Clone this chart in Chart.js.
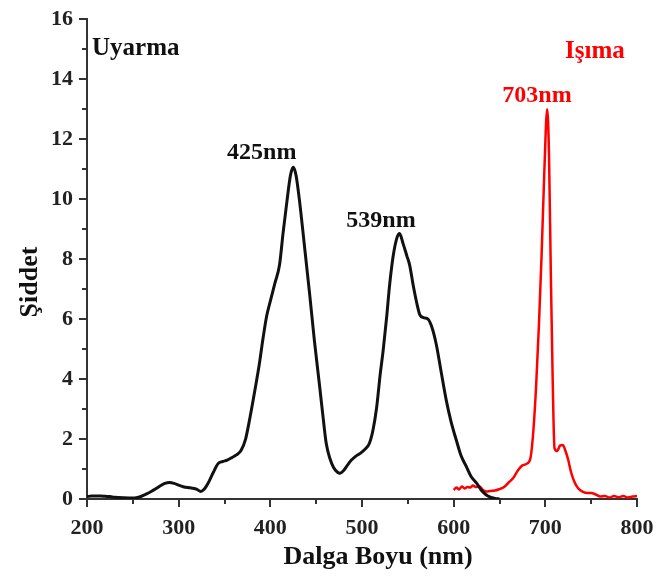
<!DOCTYPE html>
<html>
<head>
<meta charset="utf-8">
<script src="https://cdn.jsdelivr.net/npm/chart.js@4.4.1/dist/chart.umd.min.js"></script>
<style>
  html, body { margin: 0; padding: 0; background: #fff; }
  #wrap { width: 659px; height: 580px; }
</style>
</head>
<body>
<div id="wrap"><canvas id="spectrum" width="659" height="580"></canvas></div>
<script>
// excitation (Uyarma) spectrum, black
const excWave = [200, 205, 210, 215, 220, 225, 230, 240, 250, 255, 260, 265, 270, 275, 280, 285, 290, 295, 300, 305, 310, 315, 320, 324, 328, 333, 338, 343, 348, 353, 358, 363, 368, 373, 378, 383, 388, 392, 396, 400, 405, 410, 414, 418, 422, 425, 428, 432, 437, 443, 448, 454, 458, 461, 465, 469, 473, 476, 480, 484, 488, 493, 498, 503, 508, 512, 516, 520, 523, 527, 530, 534, 538, 541, 545, 549, 552, 556, 560, 563, 567, 572, 576, 581, 586, 592, 597, 603, 608, 614, 619, 625, 630, 635, 640, 645, 650];
const excValue = [0.08, 0.1, 0.1, 0.1, 0.09, 0.08, 0.06, 0.04, 0.03, 0.05, 0.1, 0.17, 0.25, 0.34, 0.44, 0.52, 0.55, 0.52, 0.46, 0.41, 0.38, 0.36, 0.32, 0.25, 0.33, 0.58, 0.9, 1.18, 1.25, 1.3, 1.38, 1.47, 1.62, 2.0, 2.75, 3.6, 4.5, 5.35, 6.1, 6.6, 7.2, 7.8, 8.9, 9.9, 10.8, 11.06, 10.8, 9.9, 8.5, 6.8, 5.3, 3.7, 2.6, 1.85, 1.35, 1.05, 0.9, 0.86, 0.95, 1.12, 1.28, 1.42, 1.52, 1.65, 1.85, 2.3, 3.06, 4.2, 4.93, 6.1, 7.1, 8.1, 8.7, 8.85, 8.5, 8.1, 7.8, 7.1, 6.5, 6.15, 6.05, 6.0, 5.75, 5.16, 4.3, 3.28, 2.6, 1.95, 1.45, 1.07, 0.75, 0.53, 0.3, 0.15, 0.06, 0.02, 0.0];

// emission (Işıma) spectrum, red
const emiWave = [600, 603, 606, 609, 612, 615, 618, 621, 624, 628, 632, 636, 640, 645, 650, 655, 660, 665, 670, 675, 680, 684, 687, 690, 693, 696, 699, 702, 704, 706, 708, 710, 713, 716, 719, 722, 725, 728, 732, 736, 741, 746, 750, 755, 760, 765, 770, 775, 780, 785, 790, 795, 800];
const emiValue = [0.3, 0.38, 0.32, 0.42, 0.35, 0.4, 0.38, 0.45, 0.4, 0.42, 0.3, 0.25, 0.27, 0.28, 0.33, 0.4, 0.55, 0.7, 0.95, 1.12, 1.18, 1.4, 2.3, 3.8, 5.8, 8.2, 11.0, 13.0, 11.5, 7.5, 4.0, 1.7, 1.6, 1.78, 1.8, 1.6, 1.3, 0.9, 0.55, 0.35, 0.24, 0.2, 0.2, 0.15, 0.08, 0.1, 0.05, 0.1, 0.06, 0.1, 0.05, 0.08, 0.1];

const xTicks = [200, 300, 400, 500, 600, 700, 800];
const yTicks = [0, 2, 4, 6, 8, 10, 12, 14, 16];

// peak labels: [text, wavelength, intensity, colour]
const peakLabels = [
  ["425nm", 390.6, 11.33, "#111"],
  ["539nm", 520.7, 9.08, "#111"],
  ["703nm", 690.9, 13.25, "#ff0000"]
];

const serif = "'Liberation Serif', 'Times New Roman', serif";
const axisColor = "#333";

const toPoints = (xs, ys) => xs.map((x, i) => ({ x: x, y: ys[i] }));

const decorations = {
  id: "decorations",
  afterDraw(chart) {
    const { ctx, scales } = chart;
    const xs = scales.x, ys = scales.y;
    const area = chart.chartArea;
    ctx.save();

    // minor ticks
    ctx.strokeStyle = axisColor;
    ctx.lineWidth = 2;
    ctx.beginPath();
    for (let i = 0; i < xTicks.length - 1; i++) {
      const px = Math.round(xs.getPixelForValue((xTicks[i] + xTicks[i + 1]) / 2));
      ctx.moveTo(px, area.bottom);
      ctx.lineTo(px, area.bottom + 5);
    }
    for (let i = 0; i < yTicks.length - 1; i++) {
      const py = Math.round(ys.getPixelForValue((yTicks[i] + yTicks[i + 1]) / 2));
      ctx.moveTo(area.left, py);
      ctx.lineTo(area.left - 5, py);
    }
    ctx.stroke();

    // series names
    ctx.font = "bold 25px " + serif;
    ctx.textBaseline = "alphabetic";
    ctx.textAlign = "left";
    ctx.fillStyle = "#111";
    ctx.fillText("Uyarma", xs.getPixelForValue(205.5), ys.getPixelForValue(14.8));
    ctx.fillStyle = "#ff0000";
    ctx.fillText("Işıma", xs.getPixelForValue(721.5), ys.getPixelForValue(14.7));

    // peak labels
    ctx.font = "bold 24px " + serif;
    ctx.textAlign = "center";
    peakLabels.forEach(([text, wl, val, color]) => {
      ctx.fillStyle = color;
      ctx.fillText(text, xs.getPixelForValue(wl), ys.getPixelForValue(val));
    });

    // axis titles
    ctx.fillStyle = "#111";
    ctx.font = "bold 26px " + serif;
    ctx.textAlign = "center";
    ctx.fillText("Dalga Boyu (nm)", 378, 564);
    ctx.translate(37, 282);
    ctx.rotate(-Math.PI / 2);
    ctx.fillText("Şiddet", 0, 0);
    ctx.restore();
  }
};

new Chart(document.getElementById("spectrum"), {
  type: "line",
  data: {
    datasets: [
      {
        label: "Uyarma",
        data: toPoints(excWave, excValue),
        borderColor: "#111",
        borderWidth: 3,
        pointRadius: 0,
        cubicInterpolationMode: "monotone",
        fill: false
      },
      {
        label: "Işıma",
        data: toPoints(emiWave, emiValue),
        borderColor: "#ff0000",
        borderWidth: 2.5,
        pointRadius: 0,
        cubicInterpolationMode: "monotone",
        fill: false
      }
    ]
  },
  options: {
    responsive: false,
    animation: false,
    layout: { padding: { top: 16, right: 22, left: 0, bottom: 0 } },
    plugins: {
      legend: { display: false },
      tooltip: { enabled: false }
    },
    scales: {
      x: {
        type: "linear",
        min: 200,
        max: 800,
        afterBuildTicks: (scale) => { scale.ticks = xTicks.map((v) => ({ value: v })); },
        afterFit: (scale) => {
          scale.height = 81;
          scale.paddingLeft = 0;
          scale.paddingRight = 0;
        },
        border: { color: axisColor, width: 2 },
        grid: { drawOnChartArea: false, color: axisColor, lineWidth: 2, tickLength: 8 },
        ticks: {
          color: "#222",
          padding: 8,
          maxRotation: 0,
          font: { family: serif, size: 22, weight: "bold" }
        }
      },
      y: {
        min: 0,
        max: 16,
        afterBuildTicks: (scale) => { scale.ticks = yTicks.map((v) => ({ value: v })); },
        afterFit: (scale) => { scale.width = 87; },
        border: { color: axisColor, width: 2 },
        grid: { drawOnChartArea: false, color: axisColor, lineWidth: 2, tickLength: 8 },
        ticks: {
          color: "#222",
          padding: 6,
          font: { family: serif, size: 22, weight: "bold" }
        }
      }
    }
  },
  plugins: [decorations]
});
</script>
</body>
</html>
